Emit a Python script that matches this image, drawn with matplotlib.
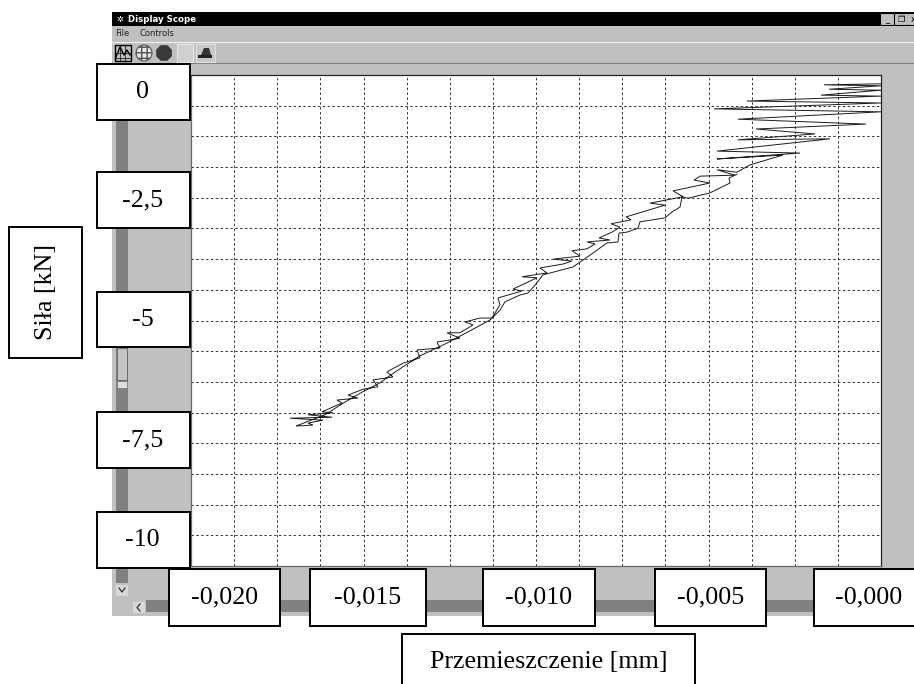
import numpy as np
import matplotlib
matplotlib.use("Agg")
import matplotlib.pyplot as plt
from matplotlib.patches import Rectangle, Circle, RegularPolygon, Polygon
from matplotlib.ticker import MultipleLocator

# displacement in micrometres
disp_um = [0, -1.652, 0, -1.507, 0, -1.739, 0, -3.884, 0, -4.841, 0, -4.145, -0.435, -3.623, -1.913,
           -4.145, -1.478, -4.754, -2.348, -4.754, -2.841, -3.797, -4.174, -4.754, -4.232,
           -5.246, -5.420, -4.957, -6.029, -5.739, -6.696, -6.261, -7.391, -7.246, -7.826,
           -7.565, -7.797, -8.174, -7.855, -8.522, -8.290, -8.522, -8.957, -8.725, -9.507,
           -8.957, -9.218, -9.884, -9.681, -10.406, -9.971, -10.667, -10.406, -11.102, -11.044,
           -11.276, -11.623, -12.058, -11.826, -12.203, -12.580, -12.203, -12.870, -12.783, -13.450,
           -13.363, -13.855, -14.174, -14.319, -14.145, -14.725, -14.580, -15.015, -15.449, -15.160,
           -15.768, -15.623, -16.203, -15.884, -16.609, -15.913, -17.130, -16.174, -16.609, -16.464,
           -16.957, -16.116, -15.536, -15.044, -14.522, -14.087, -13.363, -12.638, -11.913, -11.333,
           -11.044, -10.899, -10.464, -10.232, -10.029, -9.797, -8.928, -8.522, -8.435, -7.942,
           -7.623, -7.594, -7.362, -7.044, -6.986, -6.261, -6.058, -5.826, -5.768, -5.594,
           -4.957, -4.377, -4.406, -4.174]
# force in kN
force_kn = [-0.18, -0.20, -0.22, -0.29, -0.31, -0.41, -0.43, -0.53, -0.57, -0.69, -0.75, -0.90, -1.00, -1.10, -1.20,
            -1.32, -1.30, -1.55, -1.59, -1.71, -1.63, -1.83, -1.98, -1.93, -2.04,
            -2.06, -2.14, -2.20, -2.36, -2.48, -2.61, -2.65, -2.89, -2.95, -3.03,
            -3.10, -3.20, -3.32, -3.36, -3.40, -3.44, -3.54, -3.58, -3.69, -3.75,
            -3.79, -3.85, -3.93, -4.03, -4.11, -4.13, -4.36, -4.40, -4.54, -4.68,
            -4.95, -4.95, -5.03, -5.09, -5.25, -5.25, -5.36, -5.44, -5.56, -5.60,
            -5.76, -5.87, -5.99, -6.05, -6.15, -6.21, -6.35, -6.40, -6.52, -6.58,
            -6.62, -6.68, -6.86, -6.88, -6.92, -6.97, -6.99, -7.03, -7.09, -7.13,
            -7.15, -6.92, -6.66, -6.46, -6.27, -6.05, -5.72, -5.48, -5.21, -4.99,
            -4.79, -4.62, -4.48, -4.44, -4.28, -4.07, -3.91, -3.71, -3.67, -3.42,
            -3.40, -3.22, -3.20, -3.12, -2.99, -2.91, -2.79, -2.69, -2.48, -2.51,
            -2.40, -2.20, -2.10, -2.02]

y_labels = ["0", "-2,5", "-5", "-7,5", "-10"]
x_labels = ["-0,020", "-0,015", "-0,010", "-0,005", "-0,000"]
x_title = "Przemieszczenie [mm]"
y_title = "Siła [kN]"

W, H = 914, 684
plt.rcParams['font.family'] = ['Liberation Serif', 'DejaVu Serif']

fig = plt.figure(figsize=(W / 100, H / 100), dpi=100, facecolor='white')

# pixel canvas for the window chrome behind the plot
bg = fig.add_axes([0, 0, 1, 1], zorder=0)
bg.set_xlim(0, W)
bg.set_ylim(H, 0)
bg.axis('off')


def rect(a, x0, y0, x1, y1, fc, ec='none', lw=0, z=1):
    a.add_patch(Rectangle((x0, y0), x1 - x0, y1 - y0, fc=fc, ec=ec, lw=lw, zorder=z))


rect(bg, 112, 12, W, 616, '#c0c0c0')
rect(bg, 112, 12, W, 26, 'black', z=2)
bg.plot([112, W], [42, 42], color='#f0f0f0', lw=0.8, zorder=2)
bg.plot([112, W], [63, 63], color='#808080', lw=0.8, zorder=2)
ui = ['DejaVu Sans']
bg.text(128, 19.5, "Display Scope", color='white', fontsize=6.2, fontweight='bold', family=ui, va='center', zorder=3)
bg.text(115, 34, "File", color='#222222', fontsize=6, family=ui, va='center', zorder=3)
bg.text(139, 34, "Controls", color='#222222', fontsize=6, family=ui, va='center', zorder=3)
bg.text(116, 19.5, "✲", color='white', fontsize=6, family=ui, ha='left', va='center', zorder=3)

# toolbar icons
rect(bg, 115, 45, 131, 61, '#c0c0c0', ec='black', lw=1, z=2)
for p in [120, 125]:
    bg.plot([p, p], [45, 61], color='black', lw=0.5, zorder=3)
    bg.plot([115, 131], [p - 67, p - 67], color='black', lw=0.5, zorder=3)
bg.plot([116, 120, 124, 127, 130], [57, 47, 55, 50, 55], color='black', lw=1, zorder=3)
bg.add_patch(Circle((144, 53), 8, fc='#e8e8e8', ec='#555555', lw=0.8, hatch='+++', zorder=3))
bg.add_patch(RegularPolygon((164, 53), 8, radius=8.5, orientation=np.pi / 8, fc='#3a3a3a', ec='none', zorder=3))
rect(bg, 177, 44, 193, 62, '#d0d0d0', ec='#e8e8e8', lw=0.8, z=2)
rect(bg, 196, 44, 215, 62, '#c8c8c8', ec='#e0e0e0', lw=0.8, z=2)
bg.add_patch(Polygon([[201, 55], [204, 48], [209, 48], [211, 55]], fc='#333333', zorder=3))
rect(bg, 198, 55, 212, 58, '#222222', z=3)

# window buttons
for x0 in [881, 895, 908]:
    rect(bg, x0, 14, x0 + 12, 24, '#c0c0c0', ec='#e0e0e0', lw=0.5, z=3)
bg.text(887, 20, "_", fontsize=6, family=ui, ha='center', va='center', zorder=4)
bg.text(901, 19, "❐", fontsize=6, family=ui, ha='center', va='center', zorder=4)
bg.text(913, 19, "x", fontsize=6, family=ui, ha='center', va='center', zorder=4)

# scrollbars
rect(bg, 116, 120, 128, 583, '#808080', z=2)
rect(bg, 117, 348, 127, 380, '#c4c4c4', ec='#555555', lw=0.5, z=3)
rect(bg, 117, 381, 127, 388, '#dddddd', ec='#777777', lw=0.5, z=3)
rect(bg, 116, 585, 128, 596, '#d8d8d8', z=2)
bg.plot([119, 122, 125], [588, 592, 588], color='#333333', lw=0.9, zorder=3)
rect(bg, 146, 600, W, 612, '#808080', z=2)
rect(bg, 133, 602, 145, 613, '#d8d8d8', z=2)
bg.plot([140, 137, 140], [604, 607.5, 611], color='#333333', lw=0.9, zorder=3)

# scope area: 16 divisions each way
ax = fig.add_axes([191 / W, 1 - 566 / H, 690 / W, 491 / H], zorder=1)
ax.set_xlim(-0.020, 0)
ax.set_ylim(-10, 0)
ax.xaxis.set_major_locator(MultipleLocator(0.00125))
ax.yaxis.set_major_locator(MultipleLocator(0.625))
ax.tick_params(length=0, labelbottom=False, labelleft=False)
ax.grid(True, color='#333333', lw=0.7, linestyle=(0, (2.5, 2.5)))
ax.set_axisbelow(True)
for side, s in ax.spines.items():
    s.set_linewidth(0.9)
    s.set_color('#222222' if side in ('top', 'right') else '#666666')
ax.plot(np.array(disp_um) / 1000, force_kn, color='#1c1c1c', lw=0.7, solid_joinstyle='miter', clip_on=True)

# pasted-on label boxes
fg = fig.add_axes([0, 0, 1, 1], zorder=2)
fg.set_xlim(0, W)
fg.set_ylim(H, 0)
fg.axis('off')
fg.patch.set_alpha(0)


def box(x0, y0, x1, y1, label, tx=None, ty=None, rotation=0):
    rect(fg, x0, y0, x1, y1, 'white', ec='black', lw=1.4, z=2)
    cx = (x0 + x1) / 2 if tx is None else tx
    cy = (y0 + y1) / 2 if ty is None else ty
    fg.text(cx, cy, label, fontsize=18.7, rotation=rotation, ha='center', va='center', zorder=3)


y_boxes = [(64, 120), (172, 228), (292, 347), (412, 468), (512, 568)]
for (y0, y1), lab in zip(y_boxes, y_labels):
    box(97, y0, 189.5, y1, lab, tx=142.5)

x_boxes = [(169, 280), (310, 426), (483, 595), (655, 766), (814, 930)]
for (x0, x1), lab in zip(x_boxes, x_labels):
    box(x0, 569, x1, 626, lab, tx=869 if lab == "-0,000" else None, ty=597)

box(402, 634, 695, 700, x_title, ty=662)
box(9, 227, 82, 358, y_title, rotation=90)

fig.savefig("out.png", dpi=100, facecolor='white')
